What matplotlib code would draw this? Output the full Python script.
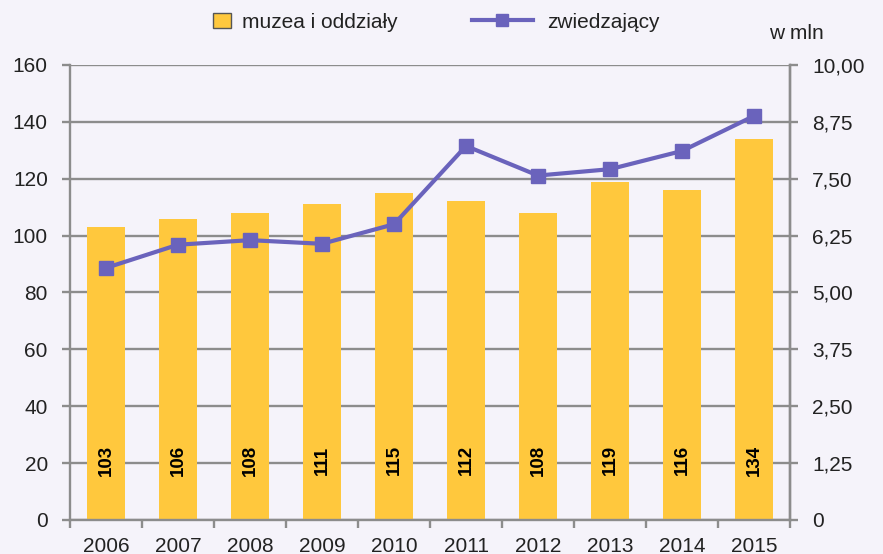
import matplotlib.pyplot as plt
import numpy as np

# Data
years = ['2006', '2007', '2008', '2009', '2010', '2011', '2012', '2013', '2014', '2015']
museums = [103, 106, 108, 111, 115, 112, 108, 119, 116, 134]
visitors = [5.54, 6.05, 6.15, 6.07, 6.50, 8.22, 7.57, 7.71, 8.11, 8.88]
left_ticks = [0, 20, 40, 60, 80, 100, 120, 140, 160]
right_ticks = [0, 1.25, 2.5, 3.75, 5.0, 6.25, 7.5, 8.75, 10.0]
right_labels = ['0', '1,25', '2,50', '3,75', '5,00', '6,25', '7,50', '8,75', '10,00']

bg = '#F5F3FA'
bar_col = '#FFC83D'
line_col = '#6A63BC'
grid_col = '#8C8C8C'
txt_col = '#222222'
fs = 15

plt.rcParams['font.family'] = ['Liberation Sans', 'DejaVu Sans']

fig = plt.figure(figsize=(8.83, 5.54), dpi=100, facecolor=bg)
ax = fig.add_axes([0.0793, 0.0614, 0.8154, 0.8213])
ax.set_facecolor(bg)

x = np.arange(len(years))
bars = ax.bar(x, museums, width=0.53, color=bar_col, zorder=2, label='muzea i oddziały')
for xi, v in zip(x, museums):
    ax.text(xi, 21, str(v), rotation=90, ha='center', va='center',
            fontsize=13.5, fontweight='bold', color='black', zorder=4)

ax.set_xlim(-0.5, len(years) - 0.5)
ax.set_ylim(0, 160)
ax.set_yticks(left_ticks)
ax.set_yticklabels([str(t) for t in left_ticks])
ax.yaxis.grid(True, color=grid_col, linewidth=1.7, zorder=1)
ax.set_axisbelow(True)

# x ticks at boundaries, labels at centers
ax.set_xticks(np.arange(-0.5, len(years), 1.0))
ax.set_xticklabels([])
ax.set_xticks(x, minor=True)
ax.set_xticklabels(years, minor=True)
ax.tick_params(axis='x', which='major', length=6, width=1.7, color=grid_col)
ax.tick_params(axis='x', which='minor', length=0, pad=12, labelsize=fs, labelcolor=txt_col)
ax.tick_params(axis='y', length=6, width=1.7, color=grid_col, labelsize=fs,
               labelcolor=txt_col, pad=10)

ax.spines['top'].set_visible(False)
for s in ['left', 'right', 'bottom']:
    ax.spines[s].set_color(grid_col)
    ax.spines[s].set_linewidth(1.7)

ax2 = ax.twinx()
line, = ax2.plot(x, visitors, color=line_col, linewidth=3, marker='s', markersize=10.5,
                 zorder=5, label='zwiedzający')
ax2.set_ylim(0, 10)
ax2.set_yticks(right_ticks)
ax2.set_yticklabels(right_labels)
ax2.tick_params(axis='y', length=6, width=1.7, color=grid_col, labelsize=fs,
                labelcolor=txt_col, pad=10)
for s in ['top', 'left', 'bottom']:
    ax2.spines[s].set_visible(False)
ax2.spines['right'].set_color(grid_col)
ax2.spines['right'].set_linewidth(1.7)

# Legends (two, so the bar swatch can be a small square)
leg1 = fig.legend([bars], ['muzea i oddziały'], loc='center left',
                  bbox_to_anchor=(0.241, 0.960), frameon=False, fontsize=fs,
                  handlelength=0.87, handleheight=0.77, handletextpad=0.53,
                  labelcolor=txt_col, borderaxespad=0, borderpad=0)
leg1.legend_handles[0].set_edgecolor('#555555')
leg1.legend_handles[0].set_linewidth(1.0)
leg2 = fig.legend([line], ['zwiedzający'], loc='center left',
                  bbox_to_anchor=(0.5345, 0.960), frameon=False, fontsize=fs,
                  handlelength=2.93, handletextpad=0.67, labelcolor=txt_col,
                  borderaxespad=0, borderpad=0)
leg2.legend_handles[0].set_markersize(8.5)

fig.text(0.871, 0.94, 'w mln', ha='left', va='center', fontsize=fs, color=txt_col)

fig.savefig('out.png', dpi=100, facecolor=bg)
